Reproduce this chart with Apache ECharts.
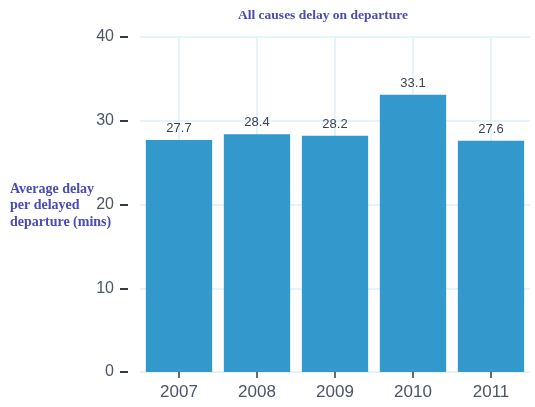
<!DOCTYPE html>
<html>
<head>
<meta charset="utf-8">
<script src="https://cdn.jsdelivr.net/npm/echarts@6/dist/echarts.min.js"></script>
<style>
  html, body { margin: 0; padding: 0; background: #fff; }
  #chart { width: 535px; height: 407px; }
</style>
</head>
<body>
<div id="chart"></div>
<script>
// years and average delay (mins)
var years = ['2007', '2008', '2009', '2010', '2011'];
var delays = [27.7, 28.4, 28.2, 33.1, 27.6];
var yTicks = [0, 10, 20, 30, 40];

var myChart = echarts.init(document.getElementById('chart'));
myChart.setOption({
    backgroundColor: '#fff',
    title: [{
        text: 'All causes delay on departure',
        left: 318,
        textAlign: 'center',
        top: 4,
        textStyle: {
            fontFamily: 'Liberation Serif',
            fontWeight: 'bold',
            fontSize: 13.5,
            color: '#4a4ab8'
        }
    }, {
        text: 'Average delay\nper delayed\ndeparture (mins)',
        left: 5,
        top: 176,
        textStyle: {
            fontFamily: 'Liberation Serif',
            fontWeight: 'bold',
            fontSize: 14,
            lineHeight: 16.5,
            color: '#4a4ab8'
        }
    }],
    grid: {
        left: 140,
        right: 5,
        top: 37,
        bottom: 35
    },
    xAxis: {
        type: 'category',
        data: years,
        offset: 3,
        axisLine: { show: false },
        axisTick: {
            show: true,
            alignWithLabel: true,
            length: 6,
            lineStyle: { color: '#333a48', width: 1.5 }
        },
        axisLabel: {
            margin: 9,
            fontSize: 17,
            fontFamily: 'Liberation Sans',
            color: '#4d5566'
        },
        splitLine: {
            show: true,
            alignWithLabel: true,
            lineStyle: { color: '#ddeff8', width: 1.5 }
        }
    },
    yAxis: {
        type: 'value',
        min: yTicks[0],
        max: yTicks[yTicks.length - 1],
        interval: 10,
        offset: 12,
        axisLine: { show: false },
        axisTick: {
            show: true,
            length: 8,
            lineStyle: { color: '#333a48', width: 2 }
        },
        axisLabel: {
            margin: 14,
            fontSize: 16,
            fontFamily: 'Liberation Sans',
            color: '#4d5566'
        },
        splitLine: {
            lineStyle: { color: '#ddeff8', width: 1.5 }
        }
    },
    series: [{
        type: 'bar',
        data: delays,
        barCategoryGap: '15%',
        itemStyle: { color: '#3399cc' },
        label: {
            show: true,
            position: 'top',
            distance: 5,
            fontSize: 13,
            fontFamily: 'Liberation Sans',
            color: '#3a4256'
        }
    }]
});
</script>
</body>
</html>
